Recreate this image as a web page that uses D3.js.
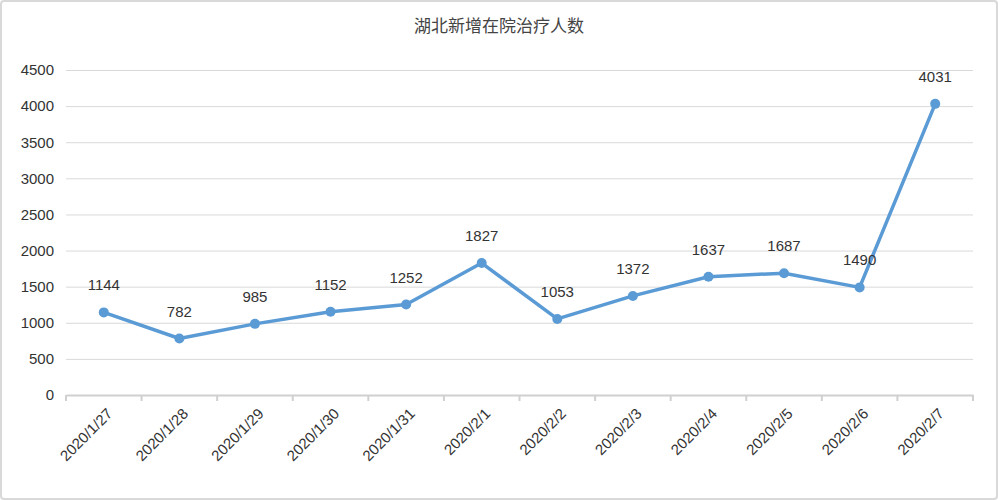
<!DOCTYPE html>
<html><head><meta charset="utf-8">
<script src="https://cdn.jsdelivr.net/npm/d3@7"></script>
<style>body{margin:0;background:#fff}svg{display:block}</style>
</head><body>
<svg id="c" width="998" height="500"></svg>
<script>
const title = "湖北新增在院治疗人数";
const categories = ["2020/1/27","2020/1/28","2020/1/29","2020/1/30","2020/1/31","2020/2/1","2020/2/2","2020/2/3","2020/2/4","2020/2/5","2020/2/6","2020/2/7"];
const values = [1144,782,985,1152,1252,1827,1053,1372,1637,1687,1490,4031];
const yTicks = [0,500,1000,1500,2000,2500,3000,3500,4000,4500];

const svg = d3.select("#c");
const cjk = "'Noto Sans CJK SC',sans-serif";
const font = "'Liberation Sans',Arial,sans-serif";
svg.append("rect").attr("x",1).attr("y",1).attr("width",996).attr("height",498)
  .attr("fill","#fff").attr("stroke","#d9d9d9").attr("stroke-width",2).attr("rx",3);
const L=66,R=973,T=70,B=395;
const x = d3.scaleBand().domain(categories).range([L,R]);
const y = d3.scaleLinear().domain([0,4500]).range([B,T]);

svg.append("text").attr("x",499).attr("y",32).attr("text-anchor","middle")
  .attr("font-family",cjk).attr("font-size",17).attr("fill","#444").text(title);

const ga = svg.append("g").attr("transform",`translate(${L},0)`)
  .call(d3.axisLeft(y).tickValues(yTicks).tickFormat(d3.format("d")).tickSize(-(R-L)).tickPadding(12));
ga.select(".domain").remove();
ga.selectAll("line").attr("stroke","#d9d9d9");
ga.selectAll("line").filter(d=>d===0).remove();
ga.selectAll("text").attr("font-family",font).attr("font-size",15).attr("fill","#333");

const gx = svg.append("g").attr("transform",`translate(0,${B})`)
  .call(d3.axisBottom(x).tickSize(0).tickPadding(0));
gx.select(".domain").attr("stroke","#d0d0d0").attr("stroke-width",2);
gx.selectAll("text").attr("font-family",font).attr("font-size",15).attr("fill","#333")
  .attr("text-anchor","end").attr("transform","translate(6,16) rotate(-45)").attr("dy","0.35em");
const bounds = categories.map(c=>x(c)).concat([R]);
svg.append("g").selectAll("line").data(bounds).join("line")
  .attr("x1",d=>d).attr("x2",d=>d).attr("y1",B).attr("y2",B+6)
  .attr("stroke","#d0d0d0").attr("stroke-width",2);

const cx = c=>x(c)+x.bandwidth()/2;
const data = categories.map((c,i)=>({c,v:values[i]}));
svg.append("path").datum(data)
  .attr("d",d3.line().x(d=>cx(d.c)).y(d=>y(d.v)))
  .attr("fill","none").attr("stroke","#5b9bd5").attr("stroke-width",3.5).attr("stroke-linejoin","round");
svg.append("g").selectAll("circle").data(data).join("circle")
  .attr("cx",d=>cx(d.c)).attr("cy",d=>y(d.v)).attr("r",5).attr("fill","#5b9bd5");
svg.append("g").selectAll("text").data(data).join("text")
  .attr("x",d=>cx(d.c)).attr("y",d=>y(d.v)-22).attr("text-anchor","middle")
  .attr("font-family",font).attr("font-size",15).attr("fill","#333").text(d=>d.v);
</script>
</body></html>
